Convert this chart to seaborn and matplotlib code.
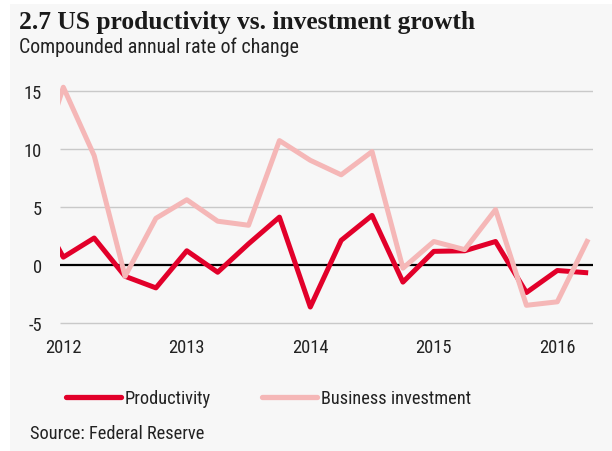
import matplotlib
matplotlib.use("Agg")
import matplotlib.pyplot as plt
from matplotlib import font_manager
from matplotlib.patches import Rectangle
from matplotlib.font_manager import FontProperties
from matplotlib.backends.backend_agg import RendererAgg
import seaborn as sns
import pandas as pd
import numpy as np

# ---- data ----
quarters = ["2011Q4",
            "2012Q1", "2012Q2", "2012Q3", "2012Q4",
            "2013Q1", "2013Q2", "2013Q3", "2013Q4",
            "2014Q1", "2014Q2", "2014Q3", "2014Q4",
            "2015Q1", "2015Q2", "2015Q3", "2015Q4",
            "2016Q1", "2016Q2"]
productivity = [5.5, 0.65, 2.3, -1.0, -2.0, 1.2, -0.65, 1.8, 4.1,
                -3.65, 2.1, 4.25, -1.5, 1.15, 1.2, 2.0, -2.4, -0.5, -0.7]
investment = [7.0, 15.3, 9.4, -1.0, 4.0, 5.6, 3.75, 3.4, 10.7,
              9.0, 7.75, 9.75, -0.3, 2.0, 1.3, 4.75, -3.5, -3.2, 2.2]
year_labels = ["2012", "2013", "2014", "2015", "2016"]
y_ticks = [-5, 0, 5, 10, 15]
series_names = ["Productivity", "Business investment"]

title = "2.7 US productivity vs. investment growth"
subtitle = "Compounded annual rate of change"
source = "Source: Federal Reserve"

RED = "#e2002a"
PINK = "#f5b7b7"
BG = "#f7f7f7"
TXT = "#222222"

# ---- fonts: look for a narrow sans ----
entries = font_manager.fontManager.ttflist
narrow_family, narrow_stretch = None, "normal"
for pref in ["Liberation Sans Narrow", "Roboto Condensed", "Open Sans Condensed",
             "Noto Sans Condensed", "DejaVu Sans Condensed"]:
    if any(e.name == pref for e in entries):
        narrow_family = pref
        break
if narrow_family is None:
    for fam in ["Liberation Sans", "Noto Sans", "Roboto", "Open Sans", "DejaVu Sans"]:
        cands = [e for e in entries if e.name == fam and
                 (("ondensed" in str(e.stretch)) or
                  (isinstance(e.stretch, (int, float)) and e.stretch < 500) or
                  "ondensed" in e.fname or "Narrow" in e.fname)]
        if cands:
            narrow_family, narrow_stretch = fam, "condensed"
            break
if narrow_family is None:
    narrow_family = "Liberation Sans"
serif = "Liberation Serif" if any(e.name == "Liberation Serif" for e in entries) else "DejaVu Serif"

sns.set_theme(style="white")
plt.rcParams["font.family"] = [narrow_family, "DejaVu Sans"]
plt.rcParams["font.stretch"] = narrow_stretch
plt.rcParams["lines.solid_capstyle"] = "butt"

_r = RendererAgg(10, 10, 100)
def text_width_px(s, size):
    fp = FontProperties(family=[narrow_family, "DejaVu Sans"], stretch=narrow_stretch, size=size)
    w, h, d = _r.get_text_width_height_descent(s, fp, ismath=False)
    return w

def size_for(s, target_px):
    return 10 * target_px / text_width_px(s, 10)

# ---- frame ----
def qidx(q):
    y, k = q.split("Q")
    return (int(y) - 2012) * 4 + int(k) - 1

t = [qidx(q) for q in quarters]
df = pd.DataFrame({
    "t": t * 2,
    "value": productivity + investment,
    "series": [series_names[0]] * len(t) + [series_names[1]] * len(t),
})

W, H = 612, 452
fig = plt.figure(figsize=(W / 100, H / 100), dpi=100)
fig.patch.set_facecolor("white")
fig.patches.append(Rectangle((10 / W, 0), 1, 1 - 5 / H, transform=fig.transFigure,
                             facecolor=BG, edgecolor="none", zorder=-10))

px_left, px_right = 60, 593
x0_px, q_px = 63.3, 30.875
ylo, yhi = -5.5, 16.0
y15_px, unit_px = 91.7, 11.6
top_px = y15_px - (yhi - 15) * unit_px
bot_px = y15_px + (15 - ylo) * unit_px
ax = fig.add_axes([px_left / W, 1 - bot_px / H, (px_right - px_left) / W, (bot_px - top_px) / H])
ax.set_facecolor(BG)

sns.lineplot(data=df, x="t", y="value", hue="series", hue_order=series_names,
             palette=[RED, PINK], linewidth=3.6, ax=ax, legend=True)
for ln in ax.get_lines():
    if ln.get_label() == series_names[0]:
        ln.set_zorder(4)
    else:
        ln.set_zorder(3)

ax.set_xlim((px_left - x0_px) / q_px, (px_right - x0_px) / q_px)
ax.set_ylim(ylo, yhi)
for v in y_ticks:
    if v == 0:
        ax.axhline(v, color="black", linewidth=1.6, zorder=2)
    else:
        ax.axhline(v, color="#c9c9c9", linewidth=1.0, zorder=1)

tick_fs = size_for("2012", 36)
ax.set_xticks([qidx(y + "Q1") for y in year_labels])
ax.set_xticklabels(year_labels)
ax.set_yticks(y_ticks)
ax.set_yticklabels([str(v) for v in y_ticks])
ax.tick_params(axis="both", length=0, labelsize=tick_fs, colors=TXT)
ax.tick_params(axis="y", pad=13)
ax.tick_params(axis="x", pad=7)
ax.set_xlabel("")
ax.set_ylabel("")
for s in ax.spines.values():
    s.set_visible(False)

leg_fs = size_for("Productivity", 86)
fs_px = leg_fs * 100 / 72
handles, labels = ax.get_legend_handles_labels()
ax.get_legend().remove()
leg = fig.legend(handles, labels, loc="center left",
                 bbox_to_anchor=(66 / W, 1 - 399 / H), ncol=2, frameon=False,
                 fontsize=leg_fs, handlelength=55 / fs_px, handletextpad=4 / fs_px,
                 columnspacing=51 / fs_px, borderpad=0, borderaxespad=0)
for lh in leg.get_lines():
    lh.set_linewidth(3.8)
    lh.set_solid_capstyle("round")
for tx in leg.get_texts():
    tx.set_color(TXT)

renderer = fig.canvas.get_renderer()

def fit(txt, target_w):
    bb = txt.get_window_extent(renderer=renderer)
    txt.set_fontsize(txt.get_fontsize() * target_w / bb.width)

t1 = fig.text(19 / W, 1 - 22 / H, title, family=[serif, "DejaVu Serif"],
              fontweight="bold", fontsize=17, va="center", ha="left", color="#1a1a1a")
fit(t1, 458)
t2 = fig.text(19 / W, 1 - 47 / H, subtitle, fontsize=14, va="center", ha="left", color=TXT)
fit(t2, 282)
t3 = fig.text(30 / W, 1 - 434 / H, source, fontsize=14, va="center", ha="left", color=TXT)
fit(t3, 176)

fig.savefig("out.png", dpi=100, facecolor=fig.get_facecolor())
